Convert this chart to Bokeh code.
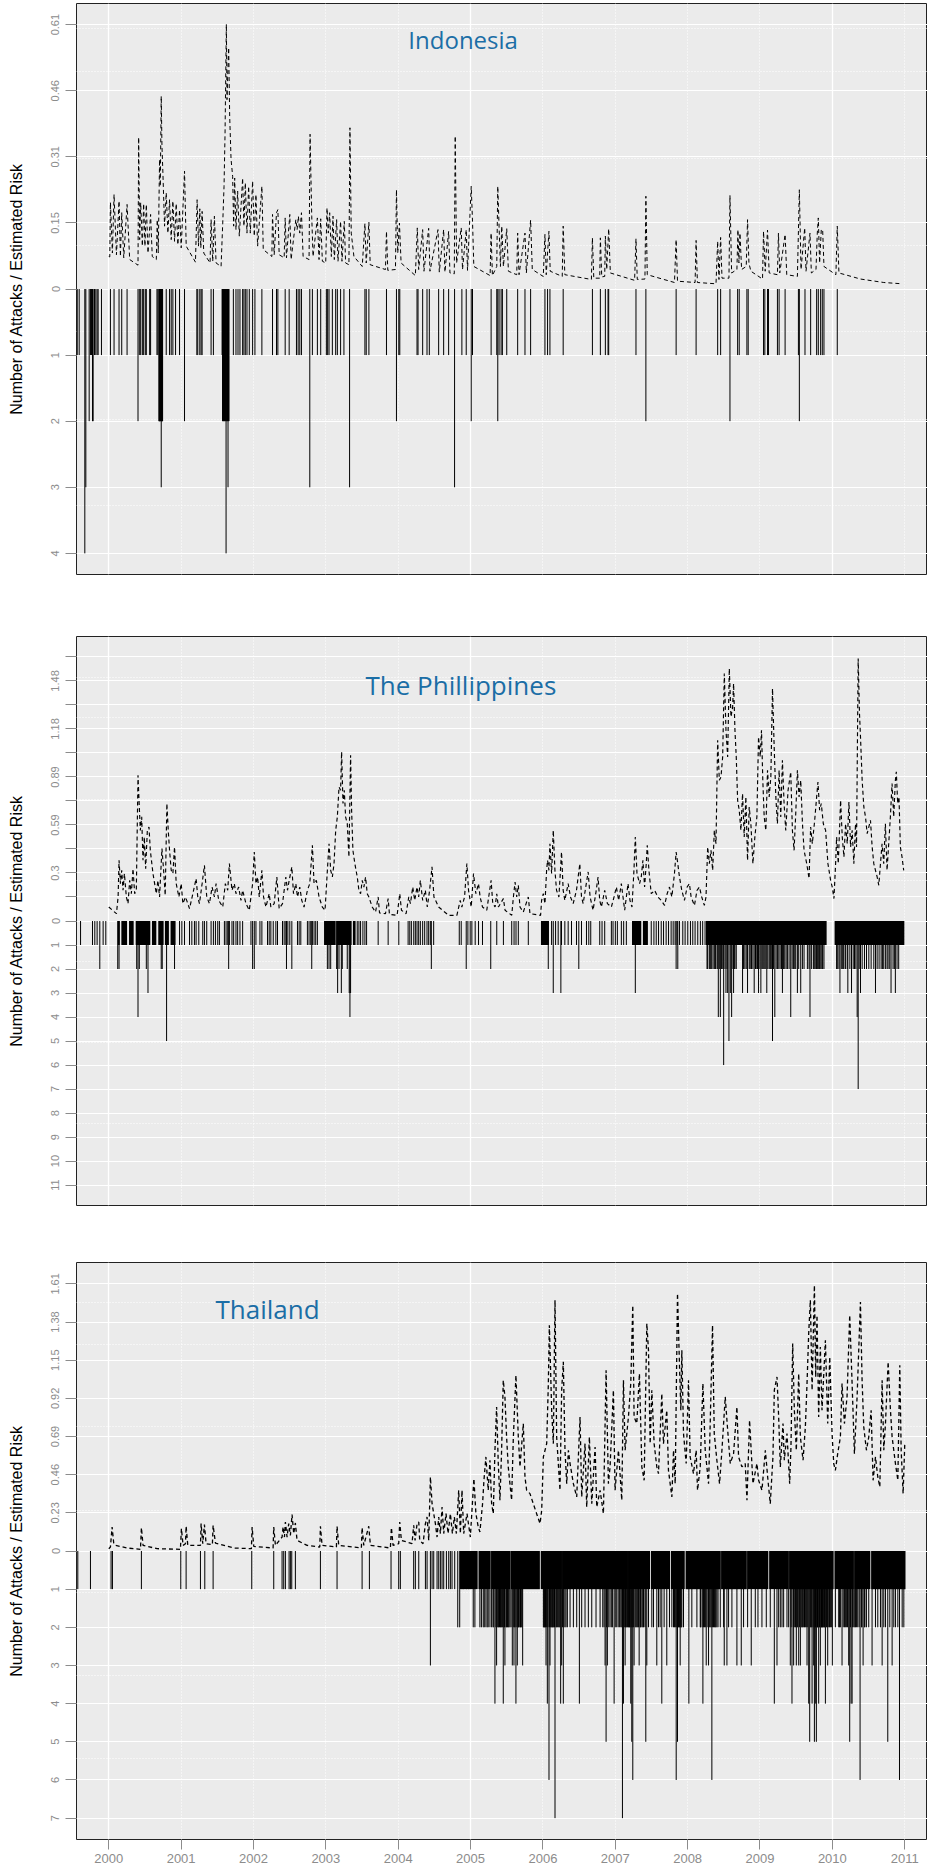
from bokeh.plotting import figure
from bokeh.models import Range1d, FixedTicker, Grid, Label
from bokeh.layouts import column
from bokeh.embed import file_html
from bokeh.resources import INLINE

# ---------------- data ----------------
YEARS = [2000, 2001, 2002, 2003, 2004, 2005, 2006, 2007, 2008, 2009, 2010, 2011]
YEAR_LABELS = ["2000", "2001", "2002", "2003", "2004", "2005", "2006", "2007", "2008", "2009", "2010", "2011"]
Y_AXIS_TITLE = "Number of Attacks / Estimated Risk"

# Indonesia
IDN_TITLE = "Indonesia"
IDN_RISK_STEP = 0.1525
IDN_TICKS = [4, 3, 2, 1, 0, -1, -2, -3, -4]
IDN_TICK_LABELS = ["0.61", "0.46", "0.31", "0.15", "0", "1", "2", "3", "4"]
IDN_RISK = [
    (2000.000, 0.075), (2000.014, 0.074), (2000.023, 0.200), (2000.050, 0.083), (2000.073, 0.218), (2000.106, 0.079), (2000.142, 0.203), (2000.161, 0.075), (2000.179, 0.176), (2000.207, 0.072),
    (2000.253, 0.195), (2000.289, 0.068), (2000.404, 0.055), (2000.413, 0.350), (2000.427, 0.114), (2000.441, 0.199), (2000.464, 0.099), (2000.482, 0.197), (2000.500, 0.099), (2000.519, 0.195),
    (2000.542, 0.083), (2000.578, 0.172), (2000.601, 0.075), (2000.657, 0.068), (2000.670, 0.160), (2000.684, 0.083), (2000.702, 0.299), (2000.712, 0.237), (2000.725, 0.445), (2000.735, 0.330),
    (2000.748, 0.268), (2000.771, 0.145), (2000.794, 0.222), (2000.817, 0.129), (2000.840, 0.206), (2000.863, 0.114), (2000.886, 0.203), (2000.909, 0.110), (2000.932, 0.197), (2000.955, 0.102),
    (2000.978, 0.183), (2001.001, 0.095), (2001.047, 0.272), (2001.070, 0.099), (2001.198, 0.062), (2001.221, 0.206), (2001.240, 0.099), (2001.258, 0.185), (2001.272, 0.095), (2001.290, 0.179),
    (2001.313, 0.083), (2001.400, 0.060), (2001.414, 0.160), (2001.437, 0.064), (2001.460, 0.168), (2001.483, 0.060), (2001.552, 0.052), (2001.575, 0.152), (2001.593, 0.237), (2001.607, 0.360),
    (2001.625, 0.611), (2001.634, 0.437), (2001.648, 0.514), (2001.657, 0.557), (2001.671, 0.399), (2001.690, 0.299), (2001.712, 0.260), (2001.726, 0.145), (2001.740, 0.256), (2001.758, 0.137),
    (2001.781, 0.226), (2001.804, 0.122), (2001.850, 0.256), (2001.868, 0.145), (2001.887, 0.245), (2001.910, 0.129), (2001.933, 0.237), (2001.956, 0.129), (2001.988, 0.249), (2002.011, 0.122),
    (2002.034, 0.218), (2002.057, 0.099), (2002.116, 0.237), (2002.135, 0.091), (2002.254, 0.075), (2002.263, 0.172), (2002.286, 0.079), (2002.318, 0.176), (2002.337, 0.183), (2002.355, 0.079),
    (2002.424, 0.072), (2002.438, 0.164), (2002.456, 0.072), (2002.502, 0.172), (2002.520, 0.068), (2002.585, 0.160), (2002.603, 0.137), (2002.621, 0.168), (2002.640, 0.129), (2002.663, 0.176),
    (2002.686, 0.075), (2002.768, 0.068), (2002.782, 0.357), (2002.805, 0.168), (2002.823, 0.075), (2002.883, 0.164), (2002.906, 0.068), (2002.929, 0.162), (2002.952, 0.064), (2002.998, 0.060),
    (2003.016, 0.187), (2003.034, 0.129), (2003.053, 0.176), (2003.076, 0.075), (2003.099, 0.168), (2003.117, 0.068), (2003.149, 0.160), (2003.168, 0.064), (2003.204, 0.156), (2003.223, 0.064),
    (2003.255, 0.156), (2003.273, 0.060), (2003.319, 0.056), (2003.333, 0.372), (2003.351, 0.129), (2003.388, 0.075), (2003.503, 0.052), (2003.540, 0.151), (2003.558, 0.060), (2003.595, 0.154),
    (2003.613, 0.056), (2003.824, 0.045), (2003.838, 0.133), (2003.856, 0.043), (2003.962, 0.045), (2003.976, 0.229), (2003.994, 0.083), (2004.017, 0.152), (2004.040, 0.060), (2004.237, 0.031),
    (2004.264, 0.141), (2004.283, 0.045), (2004.338, 0.137), (2004.356, 0.041), (2004.421, 0.140), (2004.439, 0.041), (2004.550, 0.137), (2004.568, 0.039), (2004.628, 0.137), (2004.646, 0.039),
    (2004.697, 0.133), (2004.715, 0.037), (2004.775, 0.035), (2004.788, 0.353), (2004.807, 0.060), (2004.871, 0.141), (2004.889, 0.045), (2004.940, 0.137), (2004.958, 0.043), (2005.009, 0.237),
    (2005.027, 0.156), (2005.045, 0.052), (2005.270, 0.031), (2005.284, 0.129), (2005.302, 0.031), (2005.362, 0.052), (2005.376, 0.237), (2005.394, 0.145), (2005.413, 0.052), (2005.431, 0.145),
    (2005.454, 0.052), (2005.500, 0.139), (2005.523, 0.041), (2005.638, 0.033), (2005.651, 0.129), (2005.670, 0.033), (2005.752, 0.129), (2005.771, 0.037), (2005.830, 0.159), (2005.853, 0.045),
    (2006.005, 0.029), (2006.028, 0.126), (2006.046, 0.033), (2006.083, 0.133), (2006.101, 0.041), (2006.267, 0.029), (2006.280, 0.145), (2006.303, 0.033), (2006.670, 0.022), (2006.684, 0.118),
    (2006.703, 0.025), (2006.785, 0.025), (2006.794, 0.118), (2006.813, 0.028), (2006.854, 0.029), (2006.863, 0.122), (2006.882, 0.045), (2006.909, 0.139), (2006.932, 0.037), (2007.267, 0.020),
    (2007.286, 0.116), (2007.304, 0.022), (2007.410, 0.023), (2007.423, 0.214), (2007.442, 0.033), (2007.818, 0.015), (2007.841, 0.114), (2007.860, 0.018), (2008.103, 0.015), (2008.117, 0.112),
    (2008.135, 0.015), (2008.392, 0.012), (2008.415, 0.110), (2008.433, 0.022), (2008.456, 0.119), (2008.475, 0.025), (2008.571, 0.025), (2008.585, 0.216), (2008.608, 0.037), (2008.681, 0.045),
    (2008.695, 0.137), (2008.709, 0.060), (2008.723, 0.129), (2008.746, 0.045), (2008.810, 0.052), (2008.828, 0.160), (2008.847, 0.060), (2008.874, 0.041), (2009.035, 0.023), (2009.049, 0.133),
    (2009.072, 0.041), (2009.104, 0.136), (2009.127, 0.037), (2009.241, 0.033), (2009.255, 0.129), (2009.273, 0.037), (2009.347, 0.126), (2009.370, 0.033), (2009.517, 0.029), (2009.544, 0.229),
    (2009.567, 0.045), (2009.618, 0.141), (2009.636, 0.041), (2009.691, 0.129), (2009.710, 0.037), (2009.774, 0.045), (2009.792, 0.129), (2009.806, 0.164), (2009.824, 0.060), (2009.847, 0.137),
    (2009.866, 0.137), (2009.884, 0.052), (2010.049, 0.033), (2010.068, 0.145), (2010.091, 0.037), (2010.389, 0.023), (2010.711, 0.015), (2010.963, 0.012),
]
IDN_EVENTS = [
    (1999.564, 1), (1999.591, 1), (1999.669, 4), (1999.683, 3), (1999.729, 2), (1999.747, 1), (1999.761, 1), (1999.775, 2), (1999.784, 2), (1999.803, 1), (1999.821, 1), (1999.839, 1), (1999.853, 1), (1999.899, 1),
    (2000.023, 1), (2000.073, 1), (2000.142, 1), (2000.179, 1), (2000.253, 1), (2000.404, 2), (2000.422, 1), (2000.441, 1), (2000.464, 1), (2000.482, 1), (2000.505, 1), (2000.519, 1), (2000.565, 1), (2000.578, 1),
    (2000.666, 1), (2000.679, 1), (2000.693, 2), (2000.698, 2), (2000.702, 2), (2000.707, 2), (2000.712, 2), (2000.716, 2), (2000.725, 3), (2000.730, 2), (2000.735, 2), (2000.739, 2), (2000.744, 2),
    (2000.794, 1), (2000.840, 1), (2000.863, 1), (2000.886, 1), (2000.923, 1), (2000.978, 1), (2001.047, 2),
    (2001.217, 1), (2001.230, 1), (2001.258, 1), (2001.276, 1), (2001.290, 1), (2001.414, 1), (2001.446, 1), (2001.566, 1), (2001.572, 2), (2001.579, 2), (2001.586, 2), (2001.593, 2), (2001.600, 2),
    (2001.607, 2), (2001.614, 2), (2001.621, 4), (2001.628, 2), (2001.634, 2), (2001.641, 2), (2001.648, 3), (2001.655, 2), (2001.662, 2),
    (2001.722, 1), (2001.758, 1), (2001.786, 1), (2001.813, 1), (2001.850, 1), (2001.868, 1), (2001.887, 1), (2001.910, 1), (2001.942, 1), (2001.988, 1), (2002.020, 1), (2002.116, 1), (2002.263, 1),
    (2002.318, 1), (2002.337, 1), (2002.438, 1), (2002.493, 1), (2002.594, 1), (2002.617, 1), (2002.640, 1), (2002.663, 1), (2002.778, 3), (2002.814, 1), (2002.883, 1), (2002.929, 1), (2003.007, 1),
    (2003.025, 1), (2003.044, 1), (2003.090, 1), (2003.136, 1), (2003.159, 1), (2003.204, 1), (2003.250, 1), (2003.328, 3), (2003.540, 1), (2003.558, 1), (2003.595, 1), (2003.838, 1), (2003.976, 2),
    (2004.008, 1), (2004.022, 1), (2004.260, 1), (2004.274, 1), (2004.338, 1), (2004.398, 1), (2004.430, 1), (2004.559, 1), (2004.628, 1), (2004.697, 1), (2004.779, 3), (2004.880, 1), (2004.940, 1),
    (2005.009, 2), (2005.027, 1), (2005.284, 1), (2005.362, 1), (2005.376, 2), (2005.394, 1), (2005.422, 1), (2005.440, 1), (2005.500, 1), (2005.651, 1), (2005.752, 1), (2005.830, 1), (2006.028, 1),
    (2006.064, 1), (2006.097, 1), (2006.280, 1), (2006.684, 1), (2006.794, 1), (2006.863, 1), (2006.900, 1), (2006.909, 1), (2007.286, 1), (2007.423, 2), (2007.841, 1), (2008.117, 1), (2008.415, 1),
    (2008.456, 1), (2008.585, 2), (2008.691, 1), (2008.713, 1), (2008.819, 1), (2008.837, 1), (2009.049, 1), (2009.067, 1), (2009.104, 1), (2009.118, 1), (2009.241, 1), (2009.264, 1), (2009.347, 1),
    (2009.531, 1), (2009.544, 2), (2009.622, 1), (2009.700, 1), (2009.783, 1), (2009.806, 1), (2009.838, 1), (2009.861, 1), (2009.884, 1), (2010.068, 1),
]
IDN_DENSE = []

# The Phillippines
PHL_TITLE = "The Phillippines"
PHL_RISK_STEP = 0.1478
PHL_TICKS = [11, 10, 9, 8, 7, 6, 5, 4, 3, 2, 1, 0, -1, -2, -3, -4, -5, -6, -7, -8, -9, -10, -11]
PHL_TICK_LABELS = ["", "1.48", "", "1.18", "", "0.89", "", "0.59", "", "0.3", "", "0",
                   "1", "2", "3", "4", "5", "6", "7", "8", "9", "10", "11"]
PHL_RISK = [
    (2000.000, 0.086), (2000.106, 0.045), (2000.129, 0.148), (2000.142, 0.374), (2000.161, 0.230), (2000.179, 0.312), (2000.197, 0.189), (2000.216, 0.292), (2000.243, 0.148), (2000.266, 0.107),
    (2000.289, 0.250), (2000.312, 0.168), (2000.335, 0.322), (2000.358, 0.168), (2000.381, 0.189), (2000.404, 0.897), (2000.418, 0.743), (2000.436, 0.558), (2000.455, 0.641), (2000.473, 0.374),
    (2000.491, 0.517), (2000.510, 0.322), (2000.533, 0.558), (2000.556, 0.579), (2000.574, 0.435), (2000.611, 0.292), (2000.634, 0.230), (2000.657, 0.168), (2000.679, 0.250), (2000.702, 0.148),
    (2000.735, 0.446), (2000.758, 0.312), (2000.780, 0.158), (2000.803, 0.723), (2000.822, 0.558), (2000.840, 0.435), (2000.863, 0.312), (2000.886, 0.292), (2000.909, 0.456), (2000.932, 0.230),
    (2000.969, 0.148), (2001.001, 0.230), (2001.024, 0.107), (2001.061, 0.148), (2001.116, 0.076), (2001.162, 0.168), (2001.207, 0.261), (2001.230, 0.148), (2001.253, 0.107), (2001.290, 0.230),
    (2001.322, 0.343), (2001.354, 0.148), (2001.391, 0.107), (2001.428, 0.209), (2001.460, 0.148), (2001.483, 0.230), (2001.520, 0.127), (2001.575, 0.086), (2001.611, 0.230), (2001.644, 0.189),
    (2001.667, 0.353), (2001.703, 0.189), (2001.735, 0.230), (2001.758, 0.168), (2001.795, 0.209), (2001.827, 0.127), (2001.850, 0.189), (2001.896, 0.107), (2001.942, 0.066), (2001.988, 0.230),
    (2002.011, 0.425), (2002.034, 0.230), (2002.057, 0.271), (2002.080, 0.148), (2002.116, 0.312), (2002.139, 0.148), (2002.172, 0.086), (2002.217, 0.168), (2002.240, 0.086), (2002.286, 0.107),
    (2002.323, 0.271), (2002.355, 0.076), (2002.401, 0.107), (2002.447, 0.271), (2002.470, 0.189), (2002.493, 0.250), (2002.530, 0.333), (2002.553, 0.168), (2002.585, 0.230), (2002.608, 0.148),
    (2002.640, 0.209), (2002.667, 0.127), (2002.699, 0.086), (2002.745, 0.189), (2002.778, 0.230), (2002.814, 0.466), (2002.837, 0.230), (2002.869, 0.250), (2002.906, 0.148), (2002.952, 0.086),
    (2002.989, 0.066), (2003.021, 0.312), (2003.044, 0.476), (2003.067, 0.312), (2003.090, 0.271), (2003.113, 0.353), (2003.136, 0.558), (2003.159, 0.641), (2003.182, 0.825), (2003.204, 0.805),
    (2003.218, 1.041), (2003.237, 0.723), (2003.255, 0.805), (2003.273, 0.641), (2003.296, 0.599), (2003.319, 0.394), (2003.342, 1.020), (2003.356, 0.682), (2003.374, 0.435), (2003.401, 0.353),
    (2003.434, 0.271), (2003.457, 0.189), (2003.480, 0.168), (2003.503, 0.250), (2003.526, 0.209), (2003.549, 0.271), (2003.572, 0.168), (2003.595, 0.148), (2003.641, 0.086), (2003.687, 0.055),
    (2003.723, 0.148), (2003.742, 0.049), (2003.824, 0.045), (2003.861, 0.138), (2003.879, 0.041), (2003.985, 0.035), (2004.022, 0.168), (2004.045, 0.066), (2004.109, 0.045), (2004.146, 0.148),
    (2004.169, 0.107), (2004.201, 0.209), (2004.228, 0.127), (2004.260, 0.209), (2004.283, 0.148), (2004.306, 0.250), (2004.338, 0.127), (2004.375, 0.189), (2004.402, 0.086), (2004.434, 0.189),
    (2004.467, 0.333), (2004.494, 0.148), (2004.559, 0.086), (2004.697, 0.035), (2004.811, 0.035), (2004.857, 0.127), (2004.880, 0.086), (2004.917, 0.148), (2004.949, 0.353), (2004.972, 0.189),
    (2005.009, 0.086), (2005.041, 0.292), (2005.073, 0.168), (2005.110, 0.230), (2005.132, 0.148), (2005.165, 0.086), (2005.224, 0.066), (2005.284, 0.250), (2005.307, 0.107), (2005.339, 0.086),
    (2005.362, 0.168), (2005.385, 0.086), (2005.454, 0.138), (2005.477, 0.066), (2005.569, 0.035), (2005.592, 0.148), (2005.615, 0.240), (2005.638, 0.148), (2005.660, 0.220), (2005.683, 0.086),
    (2005.729, 0.055), (2005.798, 0.148), (2005.821, 0.045), (2005.968, 0.035), (2005.982, 0.127), (2006.005, 0.168), (2006.028, 0.107), (2006.051, 0.312), (2006.064, 0.374), (2006.083, 0.312),
    (2006.097, 0.476), (2006.120, 0.292), (2006.143, 0.558), (2006.166, 0.312), (2006.188, 0.189), (2006.221, 0.148), (2006.257, 0.425), (2006.280, 0.189), (2006.303, 0.127), (2006.349, 0.230),
    (2006.381, 0.148), (2006.418, 0.107), (2006.464, 0.189), (2006.510, 0.353), (2006.533, 0.148), (2006.556, 0.107), (2006.592, 0.209), (2006.625, 0.302), (2006.652, 0.148), (2006.693, 0.066),
    (2006.730, 0.168), (2006.762, 0.271), (2006.785, 0.127), (2006.808, 0.086), (2006.854, 0.189), (2006.891, 0.107), (2006.946, 0.086), (2006.983, 0.148), (2007.015, 0.209), (2007.047, 0.127),
    (2007.084, 0.230), (2007.107, 0.148), (2007.130, 0.066), (2007.153, 0.148), (2007.176, 0.230), (2007.203, 0.127), (2007.231, 0.086), (2007.258, 0.312), (2007.277, 0.517), (2007.300, 0.292),
    (2007.336, 0.230), (2007.359, 0.271), (2007.382, 0.374), (2007.405, 0.209), (2007.428, 0.353), (2007.442, 0.466), (2007.465, 0.312), (2007.497, 0.168), (2007.543, 0.189), (2007.589, 0.148),
    (2007.635, 0.127), (2007.681, 0.096), (2007.717, 0.168), (2007.749, 0.209), (2007.782, 0.148), (2007.818, 0.292), (2007.841, 0.425), (2007.864, 0.353), (2007.887, 0.271), (2007.919, 0.189),
    (2007.956, 0.127), (2007.993, 0.209), (2008.025, 0.230), (2008.048, 0.148), (2008.094, 0.096), (2008.130, 0.189), (2008.163, 0.209), (2008.195, 0.148), (2008.231, 0.096), (2008.254, 0.148),
    (2008.277, 0.456), (2008.300, 0.353), (2008.323, 0.435), (2008.346, 0.312), (2008.369, 0.558), (2008.392, 0.476), (2008.415, 1.113), (2008.438, 0.866), (2008.461, 0.887), (2008.484, 1.010),
    (2008.507, 1.523), (2008.530, 1.174), (2008.553, 1.010), (2008.576, 1.554), (2008.599, 1.256), (2008.622, 1.318), (2008.635, 1.462), (2008.654, 1.174), (2008.672, 1.010), (2008.691, 0.743),
    (2008.713, 0.682), (2008.736, 0.558), (2008.759, 0.784), (2008.782, 0.517), (2008.805, 0.764), (2008.828, 0.374), (2008.851, 0.702), (2008.874, 0.599), (2008.902, 0.353), (2008.929, 0.517),
    (2008.957, 0.641), (2008.980, 1.133), (2009.003, 1.010), (2009.021, 1.174), (2009.039, 0.866), (2009.058, 0.641), (2009.081, 0.558), (2009.104, 0.928), (2009.127, 0.764), (2009.150, 0.887),
    (2009.173, 1.431), (2009.196, 1.072), (2009.219, 0.764), (2009.241, 0.599), (2009.264, 0.928), (2009.287, 0.641), (2009.310, 0.990), (2009.333, 0.723), (2009.356, 0.558), (2009.388, 0.805),
    (2009.425, 0.918), (2009.448, 0.558), (2009.471, 0.435), (2009.494, 0.661), (2009.517, 0.928), (2009.540, 0.764), (2009.563, 0.866), (2009.587, 0.599), (2009.609, 0.435), (2009.646, 0.353),
    (2009.678, 0.261), (2009.700, 0.579), (2009.723, 0.476), (2009.756, 0.620), (2009.783, 0.764), (2009.801, 0.856), (2009.824, 0.682), (2009.847, 0.723), (2009.875, 0.599), (2009.907, 0.558),
    (2009.939, 0.353), (2009.976, 0.250), (2009.999, 0.209), (2010.022, 0.138), (2010.045, 0.353), (2010.059, 0.517), (2010.082, 0.353), (2010.114, 0.743), (2010.137, 0.517), (2010.160, 0.394),
    (2010.183, 0.599), (2010.206, 0.476), (2010.229, 0.733), (2010.252, 0.456), (2010.274, 0.558), (2010.297, 0.353), (2010.320, 0.599), (2010.334, 0.456), (2010.357, 1.616), (2010.375, 1.277),
    (2010.389, 1.133), (2010.412, 0.866), (2010.435, 0.702), (2010.458, 0.641), (2010.481, 0.538), (2010.504, 0.579), (2010.527, 0.620), (2010.550, 0.456), (2010.573, 0.353), (2010.596, 0.312),
    (2010.619, 0.271), (2010.642, 0.220), (2010.665, 0.353), (2010.687, 0.476), (2010.710, 0.353), (2010.733, 0.599), (2010.756, 0.312), (2010.779, 0.476), (2010.802, 0.641), (2010.825, 0.846),
    (2010.848, 0.641), (2010.871, 0.866), (2010.884, 0.918), (2010.903, 0.723), (2010.921, 0.764), (2010.940, 0.456), (2010.963, 0.394), (2010.986, 0.312),
]
PHL_EVENTS = [
    (1999.610, 1), (1999.775, 1), (1999.807, 1), (1999.839, 1), (1999.876, 2), (1999.922, 1), (1999.959, 1),
    (2000.124, 2), (2000.142, 2), (2000.386, 2), (2000.404, 4), (2000.422, 2), (2000.519, 2), (2000.542, 3), (2000.725, 2), (2000.739, 2), (2000.799, 5), (2000.909, 2),
    (2000.978, 1), (2001.010, 1), (2001.047, 1), (2001.116, 1), (2001.148, 1), (2001.184, 1), (2001.207, 1), (2001.244, 1), (2001.299, 1), (2001.322, 1), (2001.354, 1), (2001.414, 1), (2001.446, 1),
    (2001.474, 1), (2001.506, 1), (2001.529, 1), (2001.598, 1), (2001.621, 1), (2001.644, 1), (2001.657, 2), (2001.667, 1), (2001.703, 1), (2001.726, 1), (2001.758, 1), (2001.781, 1), (2001.813, 1),
    (2001.850, 1), (2001.965, 1), (2001.988, 2), (2002.011, 2), (2002.034, 1), (2002.089, 1), (2002.116, 1), (2002.194, 1), (2002.217, 1), (2002.240, 1), (2002.273, 1), (2002.309, 1), (2002.332, 1),
    (2002.401, 1), (2002.424, 1), (2002.447, 1), (2002.456, 2), (2002.475, 1), (2002.502, 1), (2002.530, 2), (2002.608, 1), (2002.631, 1), (2002.654, 1), (2002.745, 1), (2002.768, 1), (2002.791, 1),
    (2002.805, 2), (2002.814, 1), (2002.837, 1), (2002.860, 1), (2002.883, 1),
    (2003.021, 2), (2003.044, 2), (2003.067, 2), (2003.149, 2), (2003.163, 3), (2003.182, 2), (2003.214, 3), (2003.227, 2), (2003.296, 2), (2003.323, 3), (2003.333, 4), (2003.342, 3),
    (2003.434, 1), (2003.457, 1), (2003.480, 1), (2003.512, 1), (2003.540, 1), (2003.563, 1), (2003.723, 1), (2003.861, 1), (2004.008, 1), (2004.137, 1), (2004.160, 1), (2004.182, 1), (2004.215, 1),
    (2004.237, 1), (2004.260, 1), (2004.283, 1), (2004.306, 1), (2004.338, 1), (2004.366, 1), (2004.398, 1), (2004.421, 1), (2004.444, 1), (2004.458, 2), (2004.490, 1), (2004.844, 1), (2004.871, 1),
    (2004.940, 2), (2004.963, 1), (2004.995, 1),
    (2005.018, 1), (2005.064, 1), (2005.110, 1), (2005.165, 1), (2005.279, 2), (2005.362, 1), (2005.454, 1), (2005.569, 1), (2005.601, 1), (2005.628, 1), (2005.660, 1), (2005.798, 1),
    (2006.074, 2), (2006.120, 1), (2006.143, 3), (2006.175, 1), (2006.211, 1), (2006.248, 3), (2006.257, 1), (2006.303, 1), (2006.349, 1), (2006.395, 1), (2006.464, 1), (2006.496, 2), (2006.533, 1),
    (2006.602, 1), (2006.634, 1), (2006.661, 1), (2006.785, 1), (2006.817, 1), (2006.854, 1), (2006.946, 1), (2006.969, 1), (2007.001, 1), (2007.029, 1), (2007.084, 1), (2007.116, 1), (2007.153, 1),
    (2007.277, 3),
    (2007.497, 1), (2007.534, 1), (2007.566, 1), (2007.598, 1), (2007.635, 1), (2007.667, 1), (2007.703, 1), (2007.736, 1), (2007.772, 1), (2007.800, 1), (2007.827, 1), (2007.841, 2), (2007.855, 1),
    (2007.864, 2), (2007.887, 1), (2007.933, 1), (2007.965, 1), (2008.002, 1), (2008.039, 1), (2008.071, 1), (2008.103, 1), (2008.140, 1), (2008.176, 1), (2008.208, 1), (2008.241, 1),
    (2008.268, 2), (2008.277, 2), (2008.300, 2), (2008.314, 2), (2008.332, 2), (2008.351, 2), (2008.369, 2), (2008.383, 2), (2008.392, 2), (2008.415, 2), (2008.424, 4), (2008.443, 2), (2008.452, 4),
    (2008.466, 2), (2008.475, 2), (2008.489, 2), (2008.498, 6), (2008.516, 2), (2008.530, 3), (2008.544, 2), (2008.553, 3), (2008.571, 5), (2008.590, 3), (2008.608, 4), (2008.626, 2), (2008.635, 3),
    (2008.645, 2), (2008.654, 2), (2008.672, 2),
    (2008.759, 3), (2008.773, 2), (2008.791, 2), (2008.810, 2), (2008.828, 3), (2008.851, 2), (2008.865, 2), (2008.883, 2), (2008.902, 2), (2008.920, 3), (2008.938, 2), (2008.948, 2), (2008.966, 2),
    (2008.980, 3), (2008.998, 2), (2009.012, 3), (2009.026, 2), (2009.039, 2), (2009.053, 2), (2009.067, 2), (2009.081, 2), (2009.094, 3), (2009.108, 2), (2009.127, 2), (2009.140, 2), (2009.150, 2),
    (2009.163, 2), (2009.173, 5), (2009.186, 2), (2009.205, 4), (2009.223, 2), (2009.241, 2), (2009.260, 2), (2009.278, 2), (2009.297, 2), (2009.310, 3), (2009.324, 2), (2009.342, 2), (2009.361, 2),
    (2009.379, 2), (2009.402, 2), (2009.425, 4), (2009.444, 2), (2009.462, 2), (2009.480, 2), (2009.494, 2), (2009.517, 3), (2009.535, 2), (2009.563, 3), (2009.586, 2), (2009.609, 2), (2009.655, 2),
    (2009.678, 2), (2009.691, 4), (2009.710, 2), (2009.737, 2), (2009.747, 2), (2009.760, 2), (2009.774, 2), (2009.783, 2), (2009.792, 2), (2009.806, 2), (2009.820, 2), (2009.829, 2), (2009.843, 2),
    (2009.857, 2), (2009.866, 2), (2009.884, 2),
    (2010.059, 2), (2010.068, 2), (2010.091, 2), (2010.105, 3), (2010.123, 2), (2010.137, 2), (2010.150, 2), (2010.160, 2), (2010.183, 2), (2010.206, 2), (2010.214, 3), (2010.242, 2), (2010.265, 3),
    (2010.288, 2), (2010.306, 2), (2010.325, 2), (2010.343, 4), (2010.357, 7), (2010.371, 2), (2010.389, 3), (2010.412, 2), (2010.444, 2), (2010.472, 2), (2010.504, 2), (2010.536, 2), (2010.573, 2),
    (2010.596, 3), (2010.619, 2), (2010.646, 2), (2010.674, 2), (2010.692, 2), (2010.710, 2), (2010.733, 2), (2010.756, 2), (2010.770, 2), (2010.793, 2), (2010.811, 3), (2010.839, 2), (2010.857, 2),
    (2010.871, 3), (2010.894, 2), (2010.917, 2),
]
# spans of near-daily single attacks (solid runs of bars)
PHL_DENSE = [
    (2000.124, 2000.152), (2000.174, 2000.253), (2000.280, 2000.344), (2000.372, 2000.574), (2000.597, 2000.657), (2000.684, 2000.758), (2000.776, 2000.831),
    (2000.854, 2000.923), (2002.975, 2003.136), (2003.149, 2003.356), (2003.374, 2003.411), (2005.973, 2006.083), (2007.231, 2007.359), (2007.382, 2007.451),
    (2008.254, 2009.921), (2010.031, 2010.995),
]

# Thailand
THA_TITLE = "Thailand"
THA_RISK_STEP = 0.23
THA_TICKS = [7, 6, 5, 4, 3, 2, 1, 0, -1, -2, -3, -4, -5, -6, -7]
THA_TICK_LABELS = ["1.61", "1.38", "1.15", "0.92", "0.69", "0.46", "0.23", "0", "1", "2", "3", "4", "5", "6", "7"]
THA_RISK = [
    (2000.000, 0.014), (2000.023, 0.024), (2000.046, 0.145), (2000.069, 0.044), (2000.092, 0.034), (2000.253, 0.018), (2000.438, 0.010), (2000.451, 0.141), (2000.474, 0.034), (2000.668, 0.014),
    (2000.990, 0.010), (2001.004, 0.135), (2001.027, 0.034), (2001.060, 0.044), (2001.069, 0.149), (2001.092, 0.034), (2001.267, 0.034), (2001.276, 0.165), (2001.299, 0.044), (2001.322, 0.159),
    (2001.345, 0.044), (2001.432, 0.038), (2001.442, 0.155), (2001.474, 0.048), (2001.727, 0.018), (2001.971, 0.014), (2001.981, 0.145), (2002.004, 0.028), (2002.271, 0.018), (2002.280, 0.145),
    (2002.303, 0.034), (2002.395, 0.084), (2002.409, 0.145), (2002.428, 0.084), (2002.441, 0.175), (2002.464, 0.084), (2002.487, 0.165), (2002.510, 0.094), (2002.533, 0.219), (2002.556, 0.105),
    (2002.579, 0.169), (2002.602, 0.064), (2002.741, 0.034), (2002.916, 0.024), (2002.925, 0.149), (2002.948, 0.034), (2003.146, 0.024), (2003.155, 0.149), (2003.178, 0.034), (2003.491, 0.018),
    (2003.501, 0.141), (2003.524, 0.034), (2003.593, 0.149), (2003.616, 0.034), (2003.892, 0.018), (2003.906, 0.141), (2003.929, 0.034), (2004.007, 0.044), (2004.021, 0.175), (2004.044, 0.064),
    (2004.191, 0.044), (2004.214, 0.155), (2004.233, 0.064), (2004.261, 0.165), (2004.284, 0.175), (2004.297, 0.064), (2004.343, 0.044), (2004.376, 0.165), (2004.399, 0.205), (2004.422, 0.064),
    (2004.445, 0.446), (2004.468, 0.285), (2004.491, 0.225), (2004.514, 0.165), (2004.537, 0.084), (2004.560, 0.205), (2004.583, 0.105), (2004.606, 0.265), (2004.629, 0.105), (2004.661, 0.225),
    (2004.689, 0.105), (2004.721, 0.225), (2004.749, 0.105), (2004.776, 0.205), (2004.804, 0.105), (2004.836, 0.366), (2004.859, 0.105), (2004.882, 0.366), (2004.905, 0.105), (2004.951, 0.225),
    (2004.997, 0.084), (2005.014, 0.205), (2005.046, 0.436), (2005.074, 0.225), (2005.106, 0.145), (2005.129, 0.115), (2005.166, 0.285), (2005.185, 0.426), (2005.212, 0.567), (2005.244, 0.366),
    (2005.268, 0.547), (2005.291, 0.285), (2005.314, 0.225), (2005.337, 0.607), (2005.360, 0.868), (2005.383, 0.527), (2005.406, 0.306), (2005.429, 0.607), (2005.452, 1.029), (2005.475, 0.929),
    (2005.498, 0.687), (2005.521, 0.507), (2005.544, 0.406), (2005.567, 0.306), (2005.590, 0.667), (2005.627, 1.059), (2005.660, 0.687), (2005.683, 0.507), (2005.729, 0.768), (2005.752, 0.446),
    (2005.775, 0.366), (2005.821, 0.346), (2005.867, 0.285), (2005.913, 0.225), (2005.960, 0.165), (2005.983, 0.245), (2006.006, 0.567), (2006.052, 0.647), (2006.075, 1.009), (2006.089, 1.361),
    (2006.121, 0.848), (2006.144, 0.647), (2006.167, 1.512), (2006.190, 0.687), (2006.236, 0.366), (2006.259, 0.969), (2006.282, 1.140), (2006.305, 0.607), (2006.329, 0.406), (2006.352, 0.607),
    (2006.375, 0.527), (2006.421, 0.406), (2006.467, 0.326), (2006.513, 0.808), (2006.536, 0.326), (2006.582, 0.647), (2006.605, 0.265), (2006.642, 0.687), (2006.675, 0.285), (2006.721, 0.627),
    (2006.744, 0.265), (2006.790, 0.366), (2006.836, 0.225), (2006.873, 1.089), (2006.905, 0.406), (2006.928, 0.507), (2006.974, 0.969), (2006.997, 0.366), (2007.044, 0.607), (2007.090, 0.306),
    (2007.113, 1.029), (2007.136, 0.607), (2007.182, 0.808), (2007.214, 1.009), (2007.242, 1.481), (2007.260, 0.808), (2007.297, 0.768), (2007.334, 1.069), (2007.367, 0.507), (2007.399, 0.426),
    (2007.436, 1.371), (2007.459, 1.210), (2007.482, 0.647), (2007.505, 0.969), (2007.537, 0.647), (2007.574, 0.507), (2007.597, 0.466), (2007.643, 0.949), (2007.666, 0.647), (2007.712, 0.848),
    (2007.735, 0.486), (2007.782, 0.326), (2007.805, 0.607), (2007.828, 0.406), (2007.860, 1.552), (2007.888, 1.110), (2007.906, 0.848), (2007.920, 1.210), (2007.943, 0.708), (2007.980, 0.527),
    (2008.012, 1.029), (2008.035, 0.567), (2008.081, 0.466), (2008.118, 0.607), (2008.137, 0.366), (2008.174, 0.507), (2008.211, 1.009), (2008.243, 0.607), (2008.289, 0.406), (2008.312, 0.768),
    (2008.344, 1.361), (2008.368, 0.708), (2008.404, 0.547), (2008.441, 0.406), (2008.474, 0.607), (2008.520, 0.929), (2008.543, 0.788), (2008.589, 0.527), (2008.635, 0.587), (2008.681, 0.868),
    (2008.704, 0.567), (2008.750, 0.507), (2008.796, 0.527), (2008.820, 0.306), (2008.856, 0.788), (2008.903, 0.406), (2008.958, 0.527), (2008.981, 0.426), (2009.027, 0.366), (2009.074, 0.607),
    (2009.106, 0.446), (2009.142, 0.285), (2009.179, 0.567), (2009.198, 0.969), (2009.235, 1.049), (2009.258, 0.808), (2009.281, 0.507), (2009.318, 0.768), (2009.336, 0.547), (2009.373, 0.708),
    (2009.410, 0.406), (2009.428, 0.627), (2009.452, 1.250), (2009.475, 0.848), (2009.502, 0.607), (2009.535, 1.069), (2009.558, 0.687), (2009.595, 0.547), (2009.627, 0.748), (2009.650, 1.009),
    (2009.673, 1.311), (2009.696, 1.512), (2009.720, 0.969), (2009.752, 1.602), (2009.770, 1.049), (2009.788, 1.421), (2009.811, 0.808), (2009.834, 1.230), (2009.857, 0.848), (2009.904, 1.270),
    (2009.936, 0.768), (2009.964, 1.170), (2009.996, 0.708), (2010.019, 0.527), (2010.042, 0.486), (2010.074, 0.587), (2010.111, 0.687), (2010.134, 1.009), (2010.167, 0.768), (2010.203, 0.929),
    (2010.240, 1.421), (2010.273, 1.009), (2010.305, 0.587), (2010.342, 0.929), (2010.388, 1.501), (2010.411, 1.029), (2010.434, 0.748), (2010.471, 0.607), (2010.503, 0.687), (2010.536, 0.848),
    (2010.563, 0.426), (2010.596, 0.567), (2010.628, 0.446), (2010.656, 0.386), (2010.688, 1.029), (2010.711, 0.607), (2010.734, 0.768), (2010.771, 1.140), (2010.803, 0.848), (2010.826, 0.687),
    (2010.872, 0.527), (2010.905, 0.426), (2010.932, 1.120), (2010.951, 0.607), (2010.978, 0.346), (2011.001, 0.647),
]
THA_EVENTS = [
    (1999.572, 1), (1999.747, 1), (2000.032, 1), (2000.051, 1), (2000.451, 1), (2000.995, 1), (2001.069, 1), (2001.267, 1), (2001.327, 1), (2001.442, 1), (2001.976, 1), (2002.280, 1), (2002.395, 1),
    (2002.418, 1), (2002.441, 1), (2002.492, 1), (2002.510, 1), (2002.529, 1), (2002.579, 1), (2002.925, 1), (2003.155, 1), (2003.501, 1), (2003.602, 1), (2003.901, 1), (2004.007, 1), (2004.030, 1),
    (2004.214, 1), (2004.237, 1), (2004.284, 1), (2004.376, 1), (2004.399, 1), (2004.445, 3), (2004.468, 1), (2004.491, 1), (2004.537, 1), (2004.560, 1), (2004.583, 1), (2004.606, 1), (2004.629, 1),
    (2004.666, 1), (2004.698, 1), (2004.721, 1), (2004.744, 1), (2004.781, 1), (2004.823, 2), (2004.850, 2), (2004.882, 1), (2004.905, 1), (2004.942, 1), (2004.974, 1),
    (2005.037, 2), (2005.060, 2), (2005.129, 2), (2005.150, 2), (2005.175, 2), (2005.190, 2), (2005.212, 2), (2005.230, 2), (2005.244, 2), (2005.268, 2), (2005.291, 2), (2005.310, 2), (2005.337, 4),
    (2005.350, 2), (2005.360, 3), (2005.383, 2), (2005.400, 2), (2005.415, 2), (2005.430, 2), (2005.443, 2), (2005.452, 4), (2005.460, 2), (2005.475, 3), (2005.498, 2), (2005.510, 2), (2005.521, 2),
    (2005.544, 2), (2005.577, 3), (2005.590, 2), (2005.600, 3), (2005.615, 2), (2005.627, 4), (2005.640, 2), (2005.646, 3), (2005.664, 2), (2005.683, 2), (2005.700, 2), (2005.720, 3),
    (2005.320, 2), (2005.370, 2), (2005.390, 2), (2005.420, 2), (2005.470, 2), (2005.490, 2), (2005.530, 2), (2005.560, 2), (2005.610, 2), (2005.655, 2), (2005.670, 2), (2005.690, 2), (2005.710, 2),
    (2006.006, 2), (2006.015, 2), (2006.029, 2), (2006.043, 3), (2006.052, 2), (2006.061, 4), (2006.070, 2), (2006.084, 6), (2006.098, 3), (2006.107, 2), (2006.115, 2), (2006.135, 2), (2006.150, 2),
    (2006.167, 7), (2006.180, 2), (2006.190, 2), (2006.218, 2), (2006.236, 2), (2006.245, 4), (2006.259, 3), (2006.282, 4), (2006.305, 2), (2006.338, 2), (2006.375, 2), (2006.421, 2), (2006.467, 2),
    (2006.020, 2), (2006.035, 2), (2006.090, 2), (2006.125, 2), (2006.140, 2), (2006.160, 2), (2006.200, 2), (2006.225, 2), (2006.270, 2), (2006.290, 2), (2006.320, 2),
    (2006.504, 4), (2006.536, 2), (2006.582, 2), (2006.628, 2), (2006.675, 2), (2006.734, 2), (2006.790, 2), (2006.827, 2), (2006.859, 3), (2006.873, 5), (2006.891, 3), (2006.928, 2), (2006.951, 2),
    (2006.845, 2), (2006.880, 2), (2006.910, 2), (2006.960, 2), (2007.000, 2), (2007.040, 2), (2007.090, 2), (2007.140, 2), (2007.190, 2), (2007.220, 2), (2007.320, 2), (2007.350, 2), (2007.380, 2),
    (2007.410, 2),
    (2006.984, 4), (2007.020, 2), (2007.057, 2), (2007.076, 2), (2007.099, 7), (2007.105, 2), (2007.113, 4), (2007.125, 2), (2007.136, 3), (2007.150, 2), (2007.159, 2), (2007.170, 2), (2007.182, 2),
    (2007.196, 2), (2007.205, 2), (2007.214, 4), (2007.228, 5), (2007.235, 2), (2007.242, 6), (2007.250, 2), (2007.260, 3), (2007.274, 2), (2007.285, 2), (2007.297, 2), (2007.310, 2), (2007.330, 3),
    (2007.343, 2), (2007.367, 2), (2007.390, 2), (2007.422, 5), (2007.436, 3), (2007.459, 2), (2007.505, 2), (2007.528, 2), (2007.574, 3), (2007.597, 2), (2007.620, 2), (2007.643, 4), (2007.675, 2),
    (2007.712, 3), (2007.749, 2), (2007.782, 2), (2007.805, 2), (2007.818, 2), (2007.830, 2), (2007.842, 6), (2007.850, 2), (2007.860, 5), (2007.874, 2), (2007.885, 2), (2007.897, 3), (2007.905, 2),
    (2007.865, 2), (2007.890, 2), (2007.910, 2),
    (2007.920, 2), (2007.943, 2), (2008.017, 4), (2008.058, 2), (2008.128, 2), (2008.174, 2), (2008.211, 4), (2008.234, 2), (2008.257, 3), (2008.289, 3), (2008.312, 2), (2008.335, 6), (2008.358, 2),
    (2008.180, 2), (2008.200, 2), (2008.220, 2), (2008.245, 2), (2008.270, 2), (2008.300, 2), (2008.325, 2), (2008.345, 2), (2008.370, 2), (2008.390, 2), (2008.420, 2),
    (2008.381, 2), (2008.404, 2), (2008.451, 2), (2008.497, 2), (2008.506, 3), (2008.543, 3), (2008.566, 2), (2008.612, 2), (2008.681, 3), (2008.741, 3), (2008.773, 2), (2008.829, 2), (2008.879, 3),
    (2008.935, 2), (2008.972, 2), (2009.027, 2), (2009.087, 2), (2009.142, 2), (2009.198, 4), (2009.235, 3), (2009.258, 2), (2009.281, 2), (2009.304, 2), (2009.327, 2), (2009.373, 2), (2009.396, 2),
    (2009.419, 3), (2009.442, 4), (2009.460, 2), (2009.465, 3), (2009.480, 2), (2009.502, 3), (2009.520, 2), (2009.535, 3), (2009.545, 2), (2009.558, 3), (2009.570, 2), (2009.581, 2), (2009.604, 2),
    (2009.430, 2), (2009.490, 2), (2009.510, 2), (2009.590, 2), (2009.615, 2), (2009.640, 2), (2009.715, 2), (2009.765, 2), (2009.795, 2), (2009.825, 2), (2009.850, 2), (2009.865, 2), (2009.895, 2),
    (2009.930, 2), (2009.960, 2), (2009.990, 2),
    (2009.627, 2), (2009.650, 3), (2009.660, 2), (2009.673, 4), (2009.687, 5), (2009.696, 2), (2009.705, 2), (2009.720, 4), (2009.733, 2), (2009.742, 3), (2009.752, 5), (2009.760, 2), (2009.770, 4),
    (2009.779, 5), (2009.788, 2), (2009.800, 2), (2009.811, 4), (2009.820, 2), (2009.834, 3), (2009.845, 2), (2009.857, 2), (2009.870, 2), (2009.880, 2), (2009.890, 2), (2009.904, 4), (2009.920, 2),
    (2009.936, 3), (2009.950, 2), (2009.973, 2), (2010.000, 3), (2010.042, 2), (2010.088, 2), (2010.111, 2), (2010.134, 3), (2010.167, 2), (2010.194, 2), (2010.226, 3), (2010.240, 5), (2010.259, 4),
    (2010.100, 2), (2010.150, 2), (2010.180, 2), (2010.210, 2), (2010.250, 2), (2010.280, 2), (2010.310, 2), (2010.335, 2), (2010.370, 2), (2010.410, 2), (2010.450, 2),
    (2010.273, 4), (2010.296, 2), (2010.319, 2), (2010.351, 2), (2010.383, 6), (2010.402, 2), (2010.425, 3), (2010.443, 2), (2010.471, 2), (2010.503, 2), (2010.549, 3), (2010.596, 2), (2010.628, 2),
    (2010.665, 2), (2010.688, 3), (2010.711, 2), (2010.734, 2), (2010.766, 5), (2010.794, 2), (2010.826, 3), (2010.849, 2), (2010.872, 2), (2010.905, 2), (2010.928, 6), (2010.965, 2), (2010.988, 2),
]
THA_DENSE = [
    (2004.852, 2005.098), (2005.110, 2005.275), (2005.287, 2005.545), (2005.557, 2005.958), (2005.970, 2006.262), (2006.274, 2007.170), (2007.182, 2007.480),
    (2007.492, 2007.756), (2007.768, 2007.960), (2007.972, 2008.450), (2008.462, 2008.818), (2008.830, 2009.115), (2009.127, 2009.390), (2009.402, 2010.018),
    (2010.030, 2010.295), (2010.307, 2010.525), (2010.537, 2011.011),
]

# ---------------- styling ----------------
X_START, X_END = 1999.554, 2011.315
FIG_W = 927
BG = "#EBEBEB"
GRAY = "#8c8c8c"
TITLE_BLUE = "#1b6ea6"


def panel(title, title_xy, title_size, risk, events, dense, step, ylim, ticks, tick_labels, dotted_y,
          height, b_top, b_bottom, b_left, show_x, risk_width):
    p = figure(width=FIG_W, height=height, x_range=Range1d(X_START, X_END), y_range=Range1d(-ylim, ylim),
               output_backend="svg", toolbar_location=None, title=None,
               x_axis_location="below" if show_x else None,
               min_border_left=b_left, min_border_right=0, min_border_top=b_top, min_border_bottom=b_bottom,
               background_fill_color=BG, border_fill_color="white", outline_line_color="#222222")
    # grids
    p.ygrid.grid_line_color = "white"
    p.ygrid.grid_line_width = 1
    p.xgrid.ticker = FixedTicker(ticks=[2000, 2005, 2010])
    p.xgrid.grid_line_color = "white"
    p.xgrid.grid_line_width = 1.3
    p.add_layout(Grid(dimension=0, ticker=FixedTicker(ticks=[y for y in YEARS if y not in (2000, 2005, 2010)]),
                      grid_line_color="white", grid_line_dash="1 2", grid_line_width=1))
    p.add_layout(Grid(dimension=1, ticker=FixedTicker(ticks=dotted_y),
                      grid_line_color="white", grid_line_dash="1 2", grid_line_width=1))
    # y axis
    ax = p.yaxis[0]
    ax.ticker = FixedTicker(ticks=ticks)
    ax.major_label_overrides = {t: l for t, l in zip(ticks, tick_labels)}
    ax.major_label_orientation = "vertical"
    ax.major_label_text_font = "Liberation Sans"
    ax.major_label_text_font_size = "11px"
    ax.major_label_text_color = GRAY
    ax.major_label_standoff = 6
    ax.major_tick_out = 11
    ax.major_tick_in = 0
    ax.major_tick_line_color = GRAY
    ax.minor_tick_line_color = None
    ax.axis_line_color = None
    ax.axis_label = Y_AXIS_TITLE
    ax.axis_label_text_font = "Liberation Sans"
    ax.axis_label_text_font_size = "16px"
    ax.axis_label_text_font_style = "normal"
    ax.axis_label_text_color = "black"
    ax.axis_label_standoff = 24
    if show_x:
        xa = p.xaxis[0]
        xa.ticker = FixedTicker(ticks=YEARS)
        xa.major_label_overrides = {y: l for y, l in zip(YEARS, YEAR_LABELS)}
        xa.major_label_text_font = "Liberation Sans"
        xa.major_label_text_font_size = "13px"
        xa.major_label_text_color = GRAY
        xa.major_label_standoff = 4
        xa.major_tick_out = 10
        xa.major_tick_in = 0
        xa.major_tick_line_color = GRAY
        xa.minor_tick_line_color = None
        xa.axis_line_color = None

    # dense runs of single attacks
    if dense:
        p.quad(left=[a for a, b in dense], right=[b for a, b in dense],
               top=[0] * len(dense), bottom=[-1] * len(dense),
               fill_color="black", line_color=None)
    # individual attack counts (drawn downward)
    ex = [e[0] for e in events]
    ec = [-e[1] for e in events]
    p.segment(x0=ex, y0=[0] * len(ex), x1=ex, y1=ec, line_color="black", line_width=1)
    # estimated risk (upward), in units of one tick step
    rx = [r[0] for r in risk]
    ry = [r[1] / step for r in risk]
    p.line(rx, ry, line_color="black", line_width=risk_width, line_dash="4 3")

    p.add_layout(Label(x=title_xy[0], y=title_xy[1], text=title, text_font="Open Sans",
                       text_font_size=title_size, text_color=TITLE_BLUE, text_baseline="alphabetic"))
    return p


p1 = panel(IDN_TITLE, (2004.140, 3.776), "24px", IDN_RISK, IDN_EVENTS, IDN_DENSE, IDN_RISK_STEP, 4.32,
           IDN_TICKS, IDN_TICK_LABELS, [3.944, 3.288, 1.974, 0.656, -0.650, -1.968, -3.271],
           605, 3, 31, 73, False, 1)
p2 = panel(PHL_TITLE, (2003.548, 9.81), "26px", PHL_RISK, PHL_EVENTS, PHL_DENSE, PHL_RISK_STEP, 11.85,
           PHL_TICKS, PHL_TICK_LABELS, [10.15, 8.46, 5.08, 1.70, -1.68, -5.06, -8.44],
           628, 31, 28, 73, False, 1.15)
p3 = panel(THA_TITLE, (2001.475, 6.35), "26px", THA_RISK, THA_EVENTS, THA_DENSE, THA_RISK_STEP, 7.56,
           THA_TICKS, THA_TICK_LABELS, [6.51, 5.42, 3.25, 1.07, -1.10, -3.27, -5.44],
           633, 29, 27, 76, True, 1.3)

layout = column(p1, p2, p3, spacing=0)
open("out.html", "w").write(file_html(layout, INLINE))
